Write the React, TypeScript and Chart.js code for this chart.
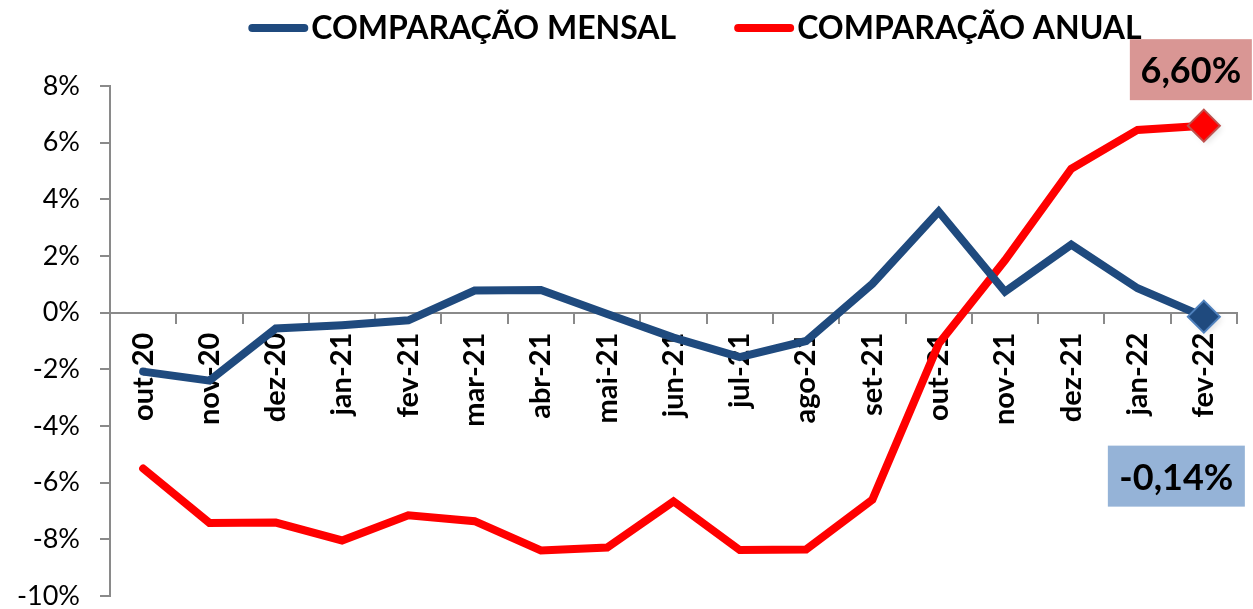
import React, { useEffect, useRef } from 'react';
import { Chart, registerables } from 'chart.js';

Chart.register(...registerables);

const categories = ['out-20', 'nov-20', 'dez-20', 'jan-21', 'fev-21', 'mar-21', 'abr-21', 'mai-21', 'jun-21', 'jul-21', 'ago-21', 'set-21', 'out-21', 'nov-21', 'dez-21', 'jan-22', 'fev-22'];
const mensal = [-2.08, -2.4, -0.56, -0.44, -0.27, 0.78, 0.8, -0.05, -0.88, -1.57, -1.0, 1.02, 3.57, 0.74, 2.4, 0.86, -0.14];
const anual = [-5.5, -7.42, -7.41, -8.04, -7.15, -7.36, -8.39, -8.29, -6.66, -8.38, -8.36, -6.6, -1.1, 1.85, 5.08, 6.45, 6.6];
const seriesNames = ['COMPARAÇÃO MENSAL', 'COMPARAÇÃO ANUAL'];
const seriesColors = ['#1f4a7e', '#ff0000'];
const markerBorders = ['#4f81bd', '#c0504d'];
const labelBoxColors = ['#95b3d7', '#d99694'];
const yMin = -10;
const yMax = 8;
const yStep = 2;

const FONT = 'Lato, "Noto Sans", sans-serif';
const AXIS = '#8a8a8a';

const fmt = (v: number) => v.toFixed(2).replace('.', ',') + '%';

const legendPlugin = {
  id: 'customLegend',
  afterDraw(chart: any) {
    const ctx = chart.ctx;
    ctx.save();
    ctx.font = `bold 32px ${FONT}`;
    const lineW = 60;
    const gapText = 3;
    const gapItems = 58;
    const items = chart.data.datasets.map((ds: any) => ({
      label: ds.label,
      color: ds.borderColor,
      w: ctx.measureText(ds.label).width,
    }));
    const total = items.reduce((a: number, it: any) => a + lineW + gapText + it.w, 0) + gapItems * (items.length - 1);
    let x = 695 - total / 2;
    const y = 28;
    items.forEach((it: any) => {
      ctx.strokeStyle = it.color;
      ctx.lineWidth = 8;
      ctx.lineCap = 'round';
      ctx.beginPath();
      ctx.moveTo(x + 4, y);
      ctx.lineTo(x + lineW - 4, y);
      ctx.stroke();
      ctx.fillStyle = '#000';
      ctx.textBaseline = 'middle';
      ctx.textAlign = 'left';
      ctx.fillText(it.label, x + lineW + gapText, y + 1);
      x += lineW + gapText + it.w + gapItems;
    });
    ctx.restore();
  },
};

const markerShadowPlugin = {
  id: 'markerShadow',
  beforeDatasetsDraw(chart: any) {
    const ctx = chart.ctx;
    ctx.save();
    chart.data.datasets.forEach((ds: any, i: number) => {
      const meta = chart.getDatasetMeta(i);
      const pt = meta.data[ds.data.length - 1];
      if (!pt) return;
      ctx.shadowColor = 'rgba(0,0,0,0.45)';
      ctx.shadowBlur = 6;
      ctx.shadowOffsetX = 3;
      ctx.shadowOffsetY = 3;
      ctx.fillStyle = 'rgba(0,0,0,0.25)';
      ctx.beginPath();
      ctx.moveTo(pt.x, pt.y - 15);
      ctx.lineTo(pt.x + 15, pt.y);
      ctx.lineTo(pt.x, pt.y + 15);
      ctx.lineTo(pt.x - 15, pt.y);
      ctx.closePath();
      ctx.fill();
    });
    ctx.restore();
  },
};

const boxSpecs = [
  { ds: 0, dx: -27.5, dy: 159.5, w: 137, h: 61 },
  { ds: 1, dx: -13, dy: -56, w: 122, h: 61 },
];

const valueBoxPlugin = {
  id: 'valueBoxes',
  afterDatasetsDraw(chart: any) {
    const ctx = chart.ctx;
    ctx.save();
    boxSpecs.forEach((s) => {
      const meta = chart.getDatasetMeta(s.ds);
      const data = chart.data.datasets[s.ds].data as number[];
      const last = data.length - 1;
      const pt = meta.data[last];
      const cx = pt.x + s.dx;
      const cy = pt.y + s.dy;
      ctx.fillStyle = labelBoxColors[s.ds];
      ctx.fillRect(cx - s.w / 2, cy - s.h / 2, s.w, s.h);
      ctx.fillStyle = '#000';
      ctx.font = `bold 36px ${FONT}`;
      ctx.textAlign = 'center';
      ctx.textBaseline = 'middle';
      ctx.fillText(fmt(data[last]), cx, cy + 2);
    });
    ctx.restore();
  },
};

export default function App() {
  const ref = useRef<HTMLCanvasElement | null>(null);
  useEffect(() => {
    if (!ref.current) return;
    const n = categories.length;
    const radii = categories.map((_, i) => (i === n - 1 ? 16 : 0));
    const chart = new Chart(ref.current, {
      type: 'line',
      data: {
        labels: categories,
        datasets: [mensal, anual].map((d, i) => ({
          label: seriesNames[i],
          data: d,
          borderColor: seriesColors[i],
          backgroundColor: seriesColors[i],
          borderWidth: 8,
          borderCapStyle: 'round',
          tension: 0,
          pointStyle: 'rectRot',
          pointRadius: radii,
          pointHoverRadius: radii,
          pointBackgroundColor: seriesColors[i],
          pointBorderColor: markerBorders[i],
          pointBorderWidth: 2,
          fill: false,
        })),
      },
      options: {
        responsive: false,
        animation: false,
        devicePixelRatio: 1,
        layout: { autoPadding: false, padding: { top: 86, bottom: 13, left: 0, right: 16 } },
        plugins: {
          legend: { display: false },
          tooltip: { enabled: false },
        },
        scales: {
          x: {
            type: 'category',
            position: { y: 0 } as any,
            offset: true,
            grid: {
              offset: true,
              drawOnChartArea: false,
              drawTicks: true,
              tickLength: 10,
              color: AXIS,
              lineWidth: 2,
            },
            border: { display: true, color: AXIS, width: 2 },
            ticks: {
              autoSkip: false,
              minRotation: 90,
              maxRotation: 90,
              padding: 10,
              color: '#000',
              font: { family: FONT, size: 29, weight: 'bold' },
            },
            afterFit: (s: any) => {
              s.height = 0;
              s.paddingLeft = 0;
              s.paddingRight = 0;
              s.paddingTop = 0;
              s.paddingBottom = 0;
            },
          },
          y: {
            min: yMin,
            max: yMax,
            grid: {
              drawOnChartArea: false,
              drawTicks: true,
              tickLength: 10,
              color: AXIS,
              lineWidth: 2,
            },
            border: { display: true, color: AXIS, width: 2 },
            ticks: {
              stepSize: yStep,
              padding: 20,
              color: '#000',
              font: { family: FONT, size: 27 },
              callback: (v: any) => `${v}%`,
            },
            afterFit: (s: any) => {
              s.width = 110;
              s.paddingTop = 0;
              s.paddingBottom = 0;
            },
          },
        },
      } as any,
      plugins: [markerShadowPlugin, legendPlugin, valueBoxPlugin],
    });
    return () => chart.destroy();
  }, []);
  return (
    <div style={{ position: 'absolute', left: 0, top: 0, width: 1253, height: 609, background: '#fff' }}>
      <canvas ref={ref} width={1253} height={609} />
    </div>
  );
}
